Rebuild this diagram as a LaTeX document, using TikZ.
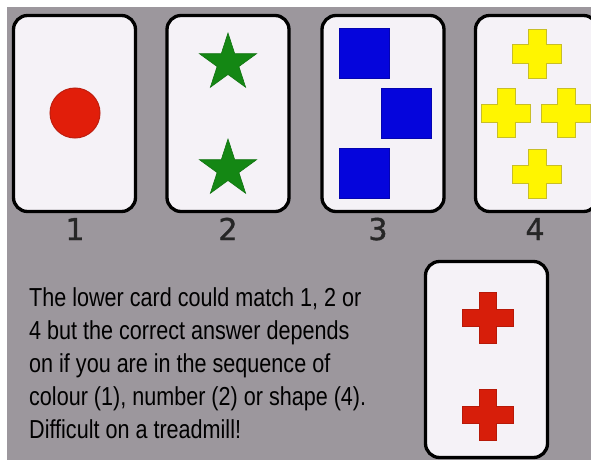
\documentclass[tikz,border=0pt]{standalone}
\usepackage{fontspec}
\usetikzlibrary{shapes.geometric}
\newfontfamily\txtfont{Liberation Sans}[FakeStretch=0.83]
\newfontfamily\digfont{DejaVu Sans}[FakeBold=1.2]
\definecolor{bggray}{RGB}{156,151,157}
\definecolor{cardfill}{RGB}{245,242,247}
\definecolor{dotred}{RGB}{225,30,10}
\definecolor{dotedge}{RGB}{190,30,15}
\definecolor{stargreen}{RGB}{20,135,20}
\definecolor{sqblue}{RGB}{5,5,220}
\definecolor{plusyellow}{RGB}{255,245,0}
\definecolor{plusedge}{RGB}{200,190,40}
\definecolor{plusred}{RGB}{215,30,10}
\tikzset{
  card/.style={draw=black, fill=cardfill, line width=3.3pt, rounded corners=14pt,
    minimum width=122pt, minimum height=196pt, inner sep=0pt},
  starshape/.style={star, star points=5, star point ratio=2.618, fill=stargreen,
    draw=stargreen!85!black, line width=0.6pt, minimum size=60pt, inner sep=0pt},
  sq/.style={rectangle, fill=sqblue, draw=sqblue!80!black, line width=0.6pt,
    minimum size=50pt, inner sep=0pt},
  dot/.style={circle, fill=dotred, draw=dotedge, line width=1pt, minimum size=50pt, inner sep=0pt},
  yplus/.style={fill=plusyellow, draw=plusedge, line width=1pt},
  rplus/.style={fill=plusred, draw=plusred!85!black, line width=0.6pt},
  digit/.style={anchor=base, inner sep=0pt, text=black!85, font=\digfont\fontsize{30}{36}\selectfont},
  txt/.style={anchor=base west, inner sep=0pt, font=\txtfont\fontsize{26}{33}\selectfont},
  pics/plus/.style 2 args={code={
    \path[pic actions] (-#2,-#1) -- (#2,-#1) -- (#2,-#2) -- (#1,-#2) -- (#1,#2) -- (#2,#2)
      -- (#2,#1) -- (-#2,#1) -- (-#2,#2) -- (-#1,#2) -- (-#1,-#2) -- (-#2,-#2) -- cycle;}}
}
\begin{document}
\begin{tikzpicture}[x=1pt,y=-1pt]
\useasboundingbox (0,0) rectangle (591,460);
\fill[white] (0,0) rectangle (591,460);
\fill[bggray] (7,7) rectangle (591,460);
% cards
\node[card] (c1) at (74.5,113.5) {};
\node[card] (c2) at (228,113.5) {};
\node[card] (c3) at (383,113.5) {};
\node[card] (c4) at (536.5,113.5) {};
\node[card] (c5) at (486.5,359.5) {};
% card 1
\node[dot] (d1) at (75,113) {};
% card 2
\node[starshape] (st1) at (228,63) {};
\node[starshape] (st2) at (228,169) {};
% card 3
\node[sq] (s1) at (364.5,53.5) {};
\node[sq] (s2) at (406.5,113.5) {};
\node[sq] (s3) at (364.5,173.5) {};
% card 4
\pic[yplus] at (537,54) {plus={24.5}{9}};
\pic[yplus] at (506,113) {plus={24.5}{9}};
\pic[yplus] at (566,113) {plus={24.5}{9}};
\pic[yplus] at (537,174) {plus={24.5}{9}};
% lower card
\pic[rplus] at (487.5,317.5) {plus={25.5}{8.5}};
\pic[rplus] at (487.5,414.5) {plus={25.5}{8.5}};
% labels
\node[digit] (n1) at (75,240) {1};
\node[digit] (n2) at (228,240) {2};
\node[digit] (n3) at (378,240) {3};
\node[digit] (n4) at (535,240) {4};
% text
\node[txt] (t1) at (29,306) {The lower card could match 1, 2 or};
\node[txt] (t2) at (29,339) {4 but the correct answer depends};
\node[txt] (t3) at (29,372) {on if you are in the sequence of};
\node[txt] (t4) at (29,405) {colour (1), number (2) or shape (4).};
\node[txt] (t5) at (29,438) {Difficult on a treadmill!};
\end{tikzpicture}
\end{document}
